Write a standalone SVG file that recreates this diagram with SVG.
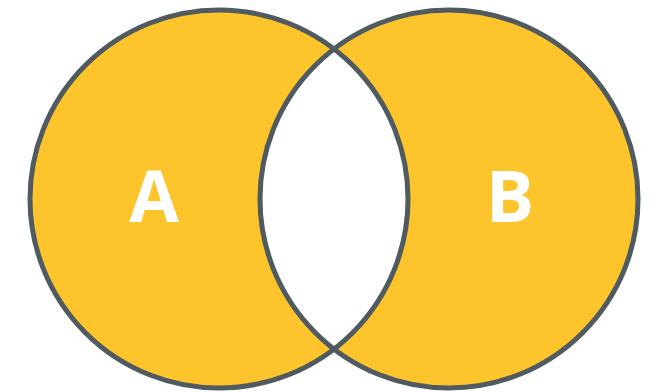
<svg xmlns="http://www.w3.org/2000/svg" width="659" height="392" viewBox="0 0 659 392">
<style>
.fill{fill:#fdc52b}
.edge{fill:none;stroke:#4f5a61;stroke-width:5}
.lbl{font-family:"Open Sans","Liberation Sans",sans-serif;font-weight:700;font-size:72px;fill:#ffffff;text-anchor:middle}
</style>
<defs>
<clipPath id="clipA"><circle cx="219" cy="199" r="189"/></clipPath>
</defs>
<rect width="659" height="392" fill="#ffffff"/>
<g id="setA">
<circle class="fill" cx="219" cy="199" r="189"/>
<text class="lbl" x="154" y="222">A</text>
</g>
<g id="setB">
<circle class="fill" cx="449" cy="199" r="189"/>
<text class="lbl" x="510" y="222">B</text>
</g>
<g id="intersection">
<circle cx="449" cy="199" r="189" fill="#ffffff" clip-path="url(#clipA)"/>
</g>
<g id="outlines">
<circle class="edge" cx="219" cy="199" r="189"/>
<circle class="edge" cx="449" cy="199" r="189"/>
</g>
</svg>
